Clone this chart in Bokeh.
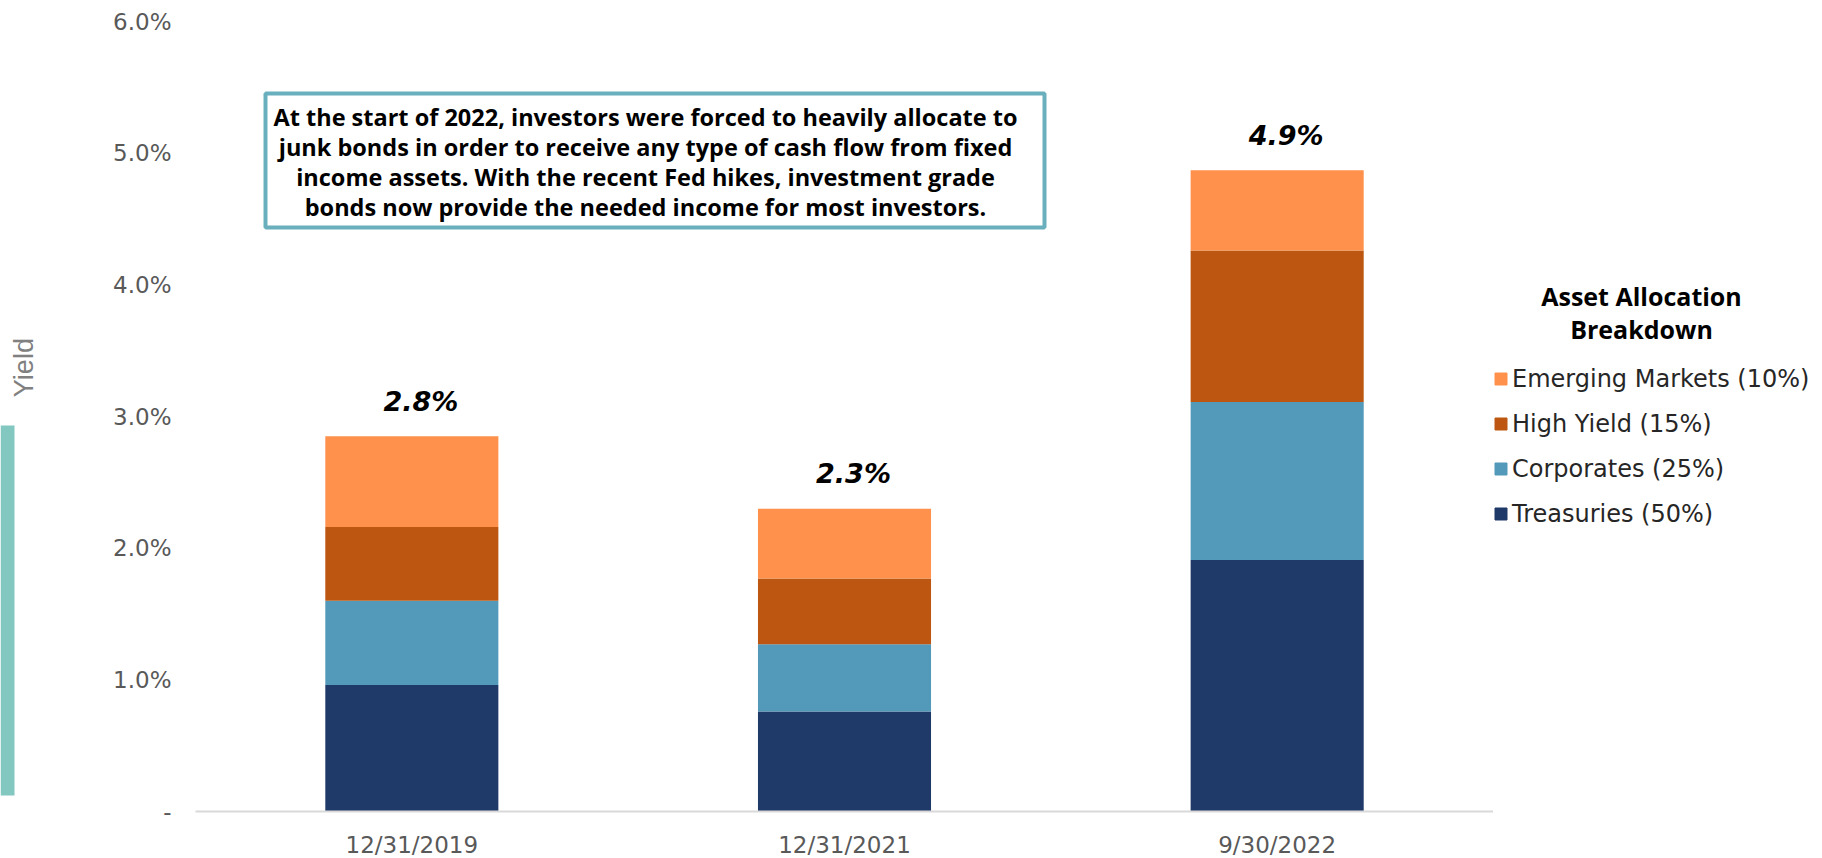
from math import pi
from bokeh.plotting import figure
from bokeh.layouts import row
from bokeh.core.properties import value
from bokeh.models import (ColumnDataSource, FactorRange, Range1d, FixedTicker,
                          Legend, LegendItem, Label, LabelSet, BoxAnnotation)
from bokeh.embed import file_html
from bokeh.resources import INLINE

# ---------------- data ----------------
dates = ["12/31/2019", "12/31/2021", "9/30/2022"]
treasuries = [0.96, 0.76, 1.91]
corporates = [0.64, 0.51, 1.20]
high_yield = [0.56, 0.50, 1.15]
emerging = [0.69, 0.53, 0.61]
total_labels = ["2.8%", "2.3%", "4.9%"]

series_keys = ["treasuries", "corporates", "high_yield", "emerging"]
series_names = ["Treasuries (50%)", "Corporates (25%)", "High Yield (15%)", "Emerging Markets (10%)"]
series_colors = ["#1F3968", "#5299BA", "#BC5610", "#FF914D"]

y_ticks = [0, 1, 2, 3, 4, 5, 6]
y_tick_labels = ["-", "1.0%", "2.0%", "3.0%", "4.0%", "5.0%", "6.0%"]

y_axis_title = "Yield"
legend_title = ["Asset Allocation", "Breakdown"]
note_lines = [
    "At the start of 2022, investors were forced to heavily allocate to",
    "junk bonds in order to receive any type of cash flow from fixed",
    "income assets. With the recent Fed hikes, investment grade",
    "bonds now provide the needed income for most investors.",
]

# ---------------- layout constants ----------------
W, H = 1822, 858
LEFT_W = 100           # side strip with the decorative bar and axis title
FRAME_L, FRAME_R = 195, 1493
FRAME_T, FRAME_B = 21, 811
RIGHT_W = W - FRAME_R  # legend strip


def sx(cx):
    return cx - FRAME_L


def sy(cy):
    return FRAME_B - cy


def side_figure(width, x0):
    # frame vertically aligned with the main chart; data units = page pixels
    f = figure(width=width, height=H, x_range=Range1d(x0, x0 + width),
               y_range=Range1d(FRAME_B, FRAME_T),
               min_border_left=0, min_border_right=0,
               min_border_top=FRAME_T, min_border_bottom=H - FRAME_B,
               x_axis_location=None, y_axis_location=None,
               toolbar_location=None, output_backend="svg")
    f.outline_line_color = None
    f.grid.grid_line_color = None
    f.background_fill_color = "white"
    f.border_fill_color = "white"
    return f


# ---------------- main chart ----------------
totals = [t + c + h + e for t, c, h, e in zip(treasuries, corporates, high_yield, emerging)]
source = ColumnDataSource(dict(dates=dates, treasuries=treasuries, corporates=corporates,
                               high_yield=high_yield, emerging=emerging,
                               totals=totals, labels=total_labels))

p = figure(frame_width=FRAME_R - FRAME_L, frame_height=FRAME_B - FRAME_T,
           x_range=FactorRange(*dates), y_range=Range1d(0, 6),
           output_backend="svg", toolbar_location=None,
           min_border_left=FRAME_L - LEFT_W, min_border_right=0,
           min_border_top=FRAME_T, min_border_bottom=H - FRAME_B)
p.outline_line_color = None
p.xgrid.grid_line_color = None
p.ygrid.grid_line_color = None
p.background_fill_color = "white"
p.border_fill_color = "white"

p.vbar_stack(series_keys, x="dates", width=0.4, color=series_colors,
             source=source, line_width=0)

p.yaxis.ticker = FixedTicker(ticks=y_ticks)
p.yaxis.major_label_overrides = {t: l for t, l in zip(y_ticks, y_tick_labels)}
p.yaxis.axis_line_color = None
p.yaxis.major_tick_line_color = None
p.yaxis.minor_tick_line_color = None
p.yaxis.major_tick_out = 0
p.yaxis.major_tick_in = 0
p.yaxis.minor_tick_out = 0
p.yaxis.major_label_standoff = 24
p.yaxis.major_label_text_font = "DejaVu Sans"
p.yaxis.major_label_text_font_size = "23px"
p.yaxis.major_label_text_color = "#595959"

p.xaxis.axis_line_color = "#D9D9D9"
p.xaxis.axis_line_width = 2
p.xaxis.major_tick_line_color = None
p.xaxis.minor_tick_line_color = None
p.xaxis.major_tick_out = 0
p.xaxis.major_tick_in = 0
p.xaxis.minor_tick_out = 0
p.xaxis.major_label_standoff = 20
p.xaxis.major_label_text_font = "DejaVu Sans"
p.xaxis.major_label_text_font_size = "23px"
p.xaxis.major_label_text_color = "#595959"

p.add_layout(LabelSet(x="dates", y="totals", text="labels", source=source,
                      x_offset=9, y_offset=35,
                      text_align="center", text_baseline="middle",
                      text_font=value("DejaVu Sans"), text_font_style="bold italic",
                      text_font_size="27px", text_color="black"))

# note box
p.add_layout(BoxAnnotation(left=sx(265), right=sx(1044), top=sy(93), bottom=sy(227),
                           left_units="screen", right_units="screen",
                           top_units="screen", bottom_units="screen",
                           fill_color="white", fill_alpha=1,
                           line_color="#6AAFBD", line_width=4, line_alpha=1))
for i, line in enumerate(note_lines):
    p.add_layout(Label(x=sx(645), y=sy(116 + 30 * i), x_units="screen", y_units="screen",
                       text=line, text_align="center", text_baseline="middle",
                       text_font="Open Sans", text_font_style="bold",
                       text_font_size="23.5px", text_color="black"))

# ---------------- left strip ----------------
left = side_figure(LEFT_W, 0)
left.add_layout(BoxAnnotation(left=0, right=14, top=426, bottom=797,
                              fill_color="#82C8C0", fill_alpha=1, line_color=None))
left.add_layout(Label(x=23, y=368, text=y_axis_title, angle=pi / 2,
                      text_align="center", text_baseline="middle",
                      text_font="Liberation Sans", text_font_size="27px", text_color="#808080"))

# ---------------- right strip (legend) ----------------
right = side_figure(RIGHT_W, FRAME_R)
for i, line in enumerate(legend_title):
    right.add_layout(Label(x=1641, y=296 + 33 * i, text=line,
                           text_align="center", text_baseline="middle",
                           text_font="Open Sans", text_font_style="bold",
                           text_font_size="25px", text_color="black"))

# hidden renderers that only supply the legend swatches
swatches = [right.vbar(x="totals", top=k, width=0.1, color=c, source=source, visible=False)
            for k, c in zip(series_keys, series_colors)]
items = [LegendItem(label=n, renderers=[r]) for n, r in zip(series_names, swatches)][::-1]
legend = Legend(items=items, location=(0, FRAME_B - 529.5), padding=0, margin=0,
                spacing=17, glyph_width=15, glyph_height=15, label_standoff=4,
                label_text_font="DejaVu Sans", label_text_font_size="24px",
                label_text_color="#262626", border_line_color=None,
                background_fill_alpha=0, inactive_fill_alpha=0)
right.add_layout(legend)

layout = row(left, p, right, spacing=0)
open("out.html", "w").write(file_html(layout, INLINE))
